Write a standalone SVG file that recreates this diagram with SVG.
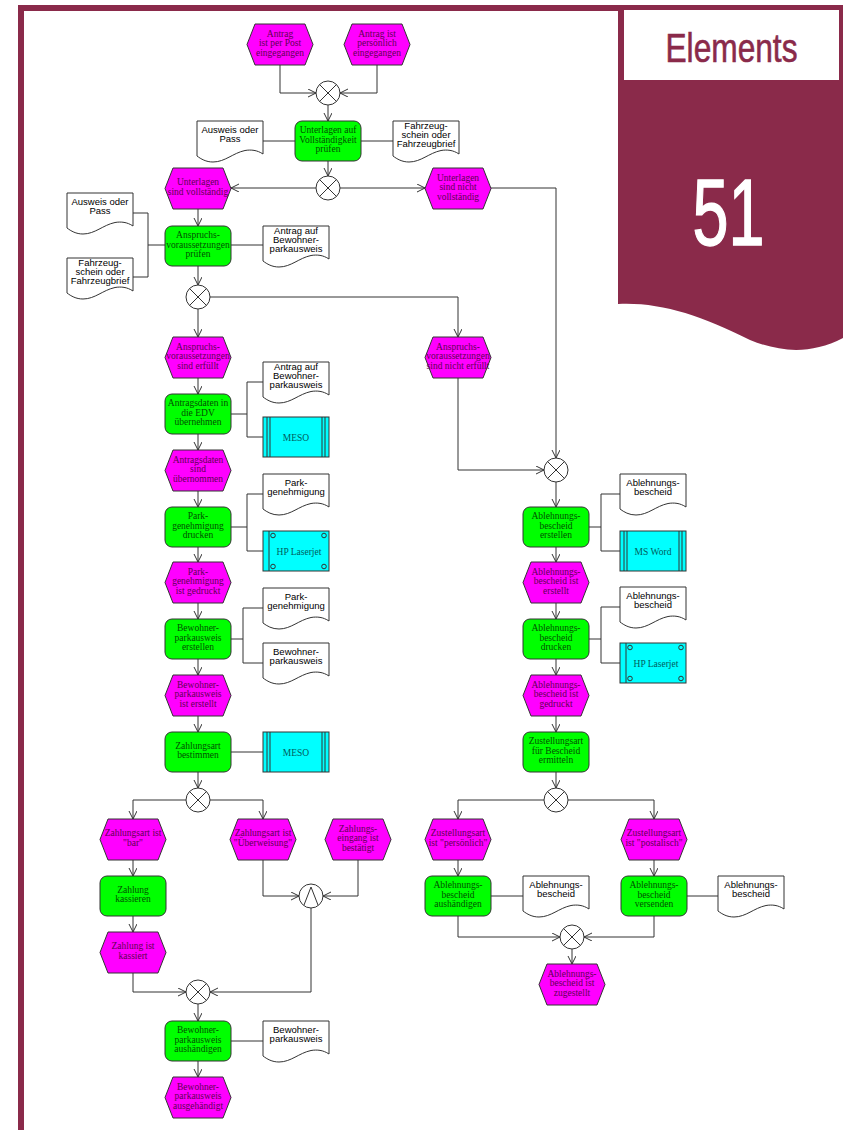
<svg xmlns="http://www.w3.org/2000/svg" xmlns:xlink="http://www.w3.org/1999/xlink" width="843" height="1130" viewBox="0 0 843 1130">
<style>
.ev{fill:#ff00ff;stroke:#333;stroke-width:1}
.fn{fill:#00ff00;stroke:#333;stroke-width:1}
.sy{fill:#00ffff;stroke:#333;stroke-width:1}
.dc{fill:#fff;stroke:#333;stroke-width:1}
.sl{stroke:#333;stroke-width:1;fill:none}
.cn{fill:#fff;stroke:#333;stroke-width:1}
.et{font-family:"Liberation Serif",serif;font-size:9.5px;fill:#5e0052;text-anchor:middle}
.ft{font-family:"Liberation Serif",serif;font-size:9.5px;fill:#005000;text-anchor:middle}
.st{font-family:"Liberation Serif",serif;font-size:9.5px;fill:#005c5c;text-anchor:middle}
.dt{font-family:"Liberation Sans",Arial,sans-serif;font-size:9.5px;fill:#000;text-anchor:middle}
#edges path{fill:none;stroke:#333;stroke-width:1}
.ar{marker-end:url(#arr)}
</style>
<defs>
<marker id="arr" markerUnits="userSpaceOnUse" markerWidth="10" markerHeight="10" refX="8" refY="4" orient="auto">
<path d="M0,0 L8,4 L0,8" fill="none" stroke="#333" stroke-width="1"/>
</marker>
<path id="hex" d="M8,0 H58 L66,20.5 L58,41 H8 L0,20.5 Z"/>
<path id="doc" d="M0,0 H66 V33 C60,29 54,28.5 48,29.5 C36,32 28,41 16,41 C9,41 4,38 0,35 Z"/>
<g id="xor"><circle cx="0" cy="0" r="12" class="cn"/><path d="M-8.5,-8.5 L8.5,8.5 M8.5,-8.5 L-8.5,8.5" class="sl"/></g>
<g id="and"><circle cx="0" cy="0" r="12" class="cn"/><path d="M-7,9 L0,-9 L7,9" class="sl"/></g>
<g id="sysA"><rect width="66" height="40" class="sy"/><path d="M4,0 V40 M7,0 V40 M59,0 V40 M62,0 V40" class="sl"/></g>
<g id="sysB"><rect width="66" height="40" class="sy"/><path d="M6,0 V40" class="sl"/><circle cx="10" cy="4.5" r="2.3" class="sl"/><circle cx="61" cy="4.5" r="2.3" class="sl"/><circle cx="10" cy="35.5" r="2.3" class="sl"/><circle cx="61" cy="35.5" r="2.3" class="sl"/></g>
</defs>
<rect width="843" height="1130" fill="#fff"/>
<g id="frame">
<rect x="18" y="5" width="602" height="6" fill="#8a2a4a"/>
<rect x="18" y="5" width="6" height="1125" fill="#8a2a4a"/>
<path d="M618,5 H843 V338 C810,355 780,352 750,340 C700,315 660,302 618,304 Z" fill="#8a2a4a"/>
<rect x="624" y="10" width="215" height="70" fill="#fff"/>
<text x="731.5" y="62" font-family="Liberation Sans,Arial,sans-serif" font-size="40" fill="#8a2a4a" stroke="#8a2a4a" stroke-width="0.6" text-anchor="middle" textLength="132" lengthAdjust="spacingAndGlyphs">Elements</text>
<text x="728.5" y="245" font-family="Liberation Sans,Arial,sans-serif" font-size="95" fill="#fff" stroke="#fff" stroke-width="1.4" text-anchor="middle" textLength="72" lengthAdjust="spacingAndGlyphs">51</text>
</g>
<g id="edges">
<path class="ar" d="M280,65 V93 H316"/>
<path class="ar" d="M377,65 V93 H340"/>
<path class="ar" d="M328,105 V121"/>
<path d="M263,141 H295 M361,141 H393"/>
<path class="ar" d="M328,161 V176"/>
<path class="ar" d="M316,188 H231"/>
<path class="ar" d="M340,188 H425"/>
<path class="ar" d="M491,188 H556 V458"/>
<path class="ar" d="M198,209 V226"/>
<path d="M133,213 H148 V277 H133 M148,245 H165 M231,245 H263"/>
<path class="ar" d="M198,266 V285"/>
<path class="ar" d="M198,309 V337"/>
<path class="ar" d="M210,297 H458 V337"/>
<path class="ar" d="M198,378 V394"/>
<path d="M231,414 H247 M247,382 V437 M247,382 H263 M247,437 H263"/>
<path class="ar" d="M198,434 V450"/>
<path class="ar" d="M198,491 V507"/>
<path d="M231,527 H247 M247,494 V551 M247,494 H263 M247,551 H263"/>
<path class="ar" d="M198,547 V562"/>
<path class="ar" d="M198,603 V619"/>
<path d="M231,639 H243 M243,608 V663 M243,608 H263 M243,663 H263"/>
<path class="ar" d="M198,659 V675"/>
<path class="ar" d="M198,716 V732"/>
<path d="M231,752 H263"/>
<path class="ar" d="M198,772 V788"/>
<path class="ar" d="M186,800 H133 V819"/>
<path class="ar" d="M210,800 H263 V819"/>
<path class="ar" d="M133,860 V876"/>
<path class="ar" d="M133,916 V932"/>
<path class="ar" d="M263,860 V896 H299"/>
<path class="ar" d="M358,860 V896 H323"/>
<path class="ar" d="M311,908 V992 H210"/>
<path class="ar" d="M133,973 V992 H186"/>
<path class="ar" d="M198,1004 V1021"/>
<path d="M231,1041 H263"/>
<path class="ar" d="M198,1061 V1077"/>
<path class="ar" d="M458,378 V470 H544"/>
<path class="ar" d="M556,482 V507"/>
<path d="M589,527 H601 M601,494 V551 M601,494 H620 M601,551 H620"/>
<path class="ar" d="M556,547 V562"/>
<path class="ar" d="M556,603 V619"/>
<path d="M589,639 H601 M601,607 V663 M601,607 H620 M601,663 H620"/>
<path class="ar" d="M556,659 V675"/>
<path class="ar" d="M556,716 V732"/>
<path class="ar" d="M556,772 V788"/>
<path class="ar" d="M544,800 H458 V819"/>
<path class="ar" d="M568,800 H654 V819"/>
<path class="ar" d="M458,860 V876"/>
<path class="ar" d="M654,860 V876"/>
<path d="M491,896 H523 M687,896 H718"/>
<path class="ar" d="M458,916 V937 H560"/>
<path class="ar" d="M654,916 V937 H584"/>
<path class="ar" d="M572,949 V964"/>
</g>
<g id="x1" transform="translate(328,93)"><use href="#xor"/></g>
<g id="x2" transform="translate(328,188)"><use href="#xor"/></g>
<g id="x3" transform="translate(198,297)"><use href="#xor"/></g>
<g id="x4" transform="translate(556,470)"><use href="#xor"/></g>
<g id="x5" transform="translate(198,800)"><use href="#xor"/></g>
<g id="a1" transform="translate(311,896)"><use href="#and"/></g>
<g id="x6" transform="translate(198,992)"><use href="#xor"/></g>
<g id="x7" transform="translate(556,800)"><use href="#xor"/></g>
<g id="x8" transform="translate(572,937)"><use href="#xor"/></g>

<g id="e1" transform="translate(247,24)"><use href="#hex" class="ev"/><text class="et"><tspan x="33" y="12.5">Antrag</tspan><tspan x="33" y="22">ist per Post</tspan><tspan x="33" y="31.5">eingegangen</tspan></text></g>
<g id="e2" transform="translate(344,24)"><use href="#hex" class="ev"/><text class="et"><tspan x="33" y="12.5">Antrag ist</tspan><tspan x="33" y="22">persönlich</tspan><tspan x="33" y="31.5">eingegangen</tspan></text></g>
<g id="f1" transform="translate(295,121)"><rect width="66" height="40" rx="7" class="fn"/><text class="ft"><tspan x="33" y="12">Unterlagen auf</tspan><tspan x="33" y="21.5">Vollständigkeit</tspan><tspan x="33" y="31">prüfen</tspan></text></g>
<g id="d1" transform="translate(197,121)"><use href="#doc" class="dc"/><text class="dt"><tspan x="33" y="12">Ausweis oder</tspan><tspan x="33" y="21">Pass</tspan></text></g>
<g id="d2" transform="translate(393,121)"><use href="#doc" class="dc"/><text class="dt"><tspan x="33" y="7.5">Fahrzeug-</tspan><tspan x="33" y="16.5">schein oder</tspan><tspan x="33" y="25.5">Fahrzeugbrief</tspan></text></g>
<g id="e3" transform="translate(165,168)"><use href="#hex" class="ev"/><text class="et"><tspan x="33" y="17.25">Unterlagen</tspan><tspan x="33" y="26.75">sind vollständig</tspan></text></g>
<g id="e4" transform="translate(425,168)"><use href="#hex" class="ev"/><text class="et"><tspan x="33" y="12.5">Unterlagen</tspan><tspan x="33" y="22">sind nicht</tspan><tspan x="33" y="31.5">vollständig</tspan></text></g>
<g id="d3" transform="translate(67,193)"><use href="#doc" class="dc"/><text class="dt"><tspan x="33" y="12">Ausweis oder</tspan><tspan x="33" y="21">Pass</tspan></text></g>
<g id="d4" transform="translate(67,258)"><use href="#doc" class="dc"/><text class="dt"><tspan x="33" y="7.5">Fahrzeug-</tspan><tspan x="33" y="16.5">schein oder</tspan><tspan x="33" y="25.5">Fahrzeugbrief</tspan></text></g>
<g id="f2" transform="translate(165,226)"><rect width="66" height="40" rx="7" class="fn"/><text class="ft"><tspan x="33" y="12">Anspruchs-</tspan><tspan x="33" y="21.5">voraussetzungen</tspan><tspan x="33" y="31">prüfen</tspan></text></g>
<g id="d5" transform="translate(263,226)"><use href="#doc" class="dc"/><text class="dt"><tspan x="33" y="7.5">Antrag auf</tspan><tspan x="33" y="16.5">Bewohner-</tspan><tspan x="33" y="25.5">parkausweis</tspan></text></g>
<g id="e5" transform="translate(165,337)"><use href="#hex" class="ev"/><text class="et"><tspan x="33" y="12.5">Anspruchs-</tspan><tspan x="33" y="22">voraussetzungen</tspan><tspan x="33" y="31.5">sind erfüllt</tspan></text></g>
<g id="e6" transform="translate(425,337)"><use href="#hex" class="ev"/><text class="et"><tspan x="33" y="12.5">Anspruchs-</tspan><tspan x="33" y="22">voraussetzungen</tspan><tspan x="33" y="31.5">sind nicht erfüllt</tspan></text></g>
<g id="f3" transform="translate(165,394)"><rect width="66" height="40" rx="7" class="fn"/><text class="ft"><tspan x="33" y="12">Antragsdaten in</tspan><tspan x="33" y="21.5">die EDV</tspan><tspan x="33" y="31">übernehmen</tspan></text></g>
<g id="d6" transform="translate(263,362)"><use href="#doc" class="dc"/><text class="dt"><tspan x="33" y="7.5">Antrag auf</tspan><tspan x="33" y="16.5">Bewohner-</tspan><tspan x="33" y="25.5">parkausweis</tspan></text></g>
<g id="s1" transform="translate(263,417)"><use href="#sysA"/><text class="st" x="33" y="23.5">MESO</text></g>
<g id="e7" transform="translate(165,450)"><use href="#hex" class="ev"/><text class="et"><tspan x="33" y="12.5">Antragsdaten</tspan><tspan x="33" y="22">sind</tspan><tspan x="33" y="31.5">übernommen</tspan></text></g>
<g id="f4" transform="translate(165,507)"><rect width="66" height="40" rx="7" class="fn"/><text class="ft"><tspan x="33" y="12">Park-</tspan><tspan x="33" y="21.5">genehmigung</tspan><tspan x="33" y="31">drucken</tspan></text></g>
<g id="d7" transform="translate(263,474)"><use href="#doc" class="dc"/><text class="dt"><tspan x="33" y="12">Park-</tspan><tspan x="33" y="21">genehmigung</tspan></text></g>
<g id="s2" transform="translate(263,531)"><use href="#sysB"/><text class="st" x="36" y="23.5">HP Laserjet</text></g>
<g id="e8" transform="translate(165,562)"><use href="#hex" class="ev"/><text class="et"><tspan x="33" y="12.5">Park-</tspan><tspan x="33" y="22">genehmigung</tspan><tspan x="33" y="31.5">ist gedruckt</tspan></text></g>
<g id="f5" transform="translate(165,619)"><rect width="66" height="40" rx="7" class="fn"/><text class="ft"><tspan x="33" y="12">Bewohner-</tspan><tspan x="33" y="21.5">parkausweis</tspan><tspan x="33" y="31">erstellen</tspan></text></g>
<g id="d8" transform="translate(263,588)"><use href="#doc" class="dc"/><text class="dt"><tspan x="33" y="12">Park-</tspan><tspan x="33" y="21">genehmigung</tspan></text></g>
<g id="d9" transform="translate(263,643)"><use href="#doc" class="dc"/><text class="dt"><tspan x="33" y="12">Bewohner-</tspan><tspan x="33" y="21">parkausweis</tspan></text></g>
<g id="e9" transform="translate(165,675)"><use href="#hex" class="ev"/><text class="et"><tspan x="33" y="12.5">Bewohner-</tspan><tspan x="33" y="22">parkausweis</tspan><tspan x="33" y="31.5">ist erstellt</tspan></text></g>
<g id="f6" transform="translate(165,732)"><rect width="66" height="40" rx="7" class="fn"/><text class="ft"><tspan x="33" y="16.75">Zahlungsart</tspan><tspan x="33" y="26.25">bestimmen</tspan></text></g>
<g id="s3" transform="translate(263,732)"><use href="#sysA"/><text class="st" x="33" y="23.5">MESO</text></g>
<g id="e10" transform="translate(100,819)"><use href="#hex" class="ev"/><text class="et"><tspan x="33" y="17.25">Zahlungsart ist</tspan><tspan x="33" y="26.75">"bar"</tspan></text></g>
<g id="e11" transform="translate(230,819)"><use href="#hex" class="ev"/><text class="et"><tspan x="33" y="17.25">Zahlungsart ist</tspan><tspan x="33" y="26.75">"Überweisung"</tspan></text></g>
<g id="e12" transform="translate(325,819)"><use href="#hex" class="ev"/><text class="et"><tspan x="33" y="12.5">Zahlungs-</tspan><tspan x="33" y="22">eingang ist</tspan><tspan x="33" y="31.5">bestätigt</tspan></text></g>
<g id="f7" transform="translate(100,876)"><rect width="66" height="40" rx="7" class="fn"/><text class="ft"><tspan x="33" y="16.75">Zahlung</tspan><tspan x="33" y="26.25">kassieren</tspan></text></g>
<g id="e13" transform="translate(100,932)"><use href="#hex" class="ev"/><text class="et"><tspan x="33" y="17.25">Zahlung ist</tspan><tspan x="33" y="26.75">kassiert</tspan></text></g>
<g id="f8" transform="translate(165,1021)"><rect width="66" height="40" rx="7" class="fn"/><text class="ft"><tspan x="33" y="12">Bewohner-</tspan><tspan x="33" y="21.5">parkausweis</tspan><tspan x="33" y="31">aushändigen</tspan></text></g>
<g id="d10" transform="translate(263,1021)"><use href="#doc" class="dc"/><text class="dt"><tspan x="33" y="12">Bewohner-</tspan><tspan x="33" y="21">parkausweis</tspan></text></g>
<g id="e14" transform="translate(165,1077)"><use href="#hex" class="ev"/><text class="et"><tspan x="33" y="12.5">Bewohner-</tspan><tspan x="33" y="22">parkausweis</tspan><tspan x="33" y="31.5">ausgehändigt</tspan></text></g>
<g id="f9" transform="translate(523,507)"><rect width="66" height="40" rx="7" class="fn"/><text class="ft"><tspan x="33" y="12">Ablehnungs-</tspan><tspan x="33" y="21.5">bescheid</tspan><tspan x="33" y="31">erstellen</tspan></text></g>
<g id="d11" transform="translate(620,474)"><use href="#doc" class="dc"/><text class="dt"><tspan x="33" y="12">Ablehnungs-</tspan><tspan x="33" y="21">bescheid</tspan></text></g>
<g id="s4" transform="translate(620,531)"><use href="#sysA"/><text class="st" x="33" y="23.5">MS Word</text></g>
<g id="e15" transform="translate(523,562)"><use href="#hex" class="ev"/><text class="et"><tspan x="33" y="12.5">Ablehnungs-</tspan><tspan x="33" y="22">bescheid ist</tspan><tspan x="33" y="31.5">erstellt</tspan></text></g>
<g id="f10" transform="translate(523,619)"><rect width="66" height="40" rx="7" class="fn"/><text class="ft"><tspan x="33" y="12">Ablehnungs-</tspan><tspan x="33" y="21.5">bescheid</tspan><tspan x="33" y="31">drucken</tspan></text></g>
<g id="d12" transform="translate(620,587)"><use href="#doc" class="dc"/><text class="dt"><tspan x="33" y="12">Ablehnungs-</tspan><tspan x="33" y="21">bescheid</tspan></text></g>
<g id="s5" transform="translate(620,643)"><use href="#sysB"/><text class="st" x="36" y="23.5">HP Laserjet</text></g>
<g id="e16" transform="translate(523,675)"><use href="#hex" class="ev"/><text class="et"><tspan x="33" y="12.5">Ablehnungs-</tspan><tspan x="33" y="22">bescheid ist</tspan><tspan x="33" y="31.5">gedruckt</tspan></text></g>
<g id="f11" transform="translate(523,732)"><rect width="66" height="40" rx="7" class="fn"/><text class="ft"><tspan x="33" y="12">Zustellungsart</tspan><tspan x="33" y="21.5">für Bescheid</tspan><tspan x="33" y="31">ermitteln</tspan></text></g>
<g id="e17" transform="translate(425,819)"><use href="#hex" class="ev"/><text class="et"><tspan x="33" y="17.25">Zustellungsart</tspan><tspan x="33" y="26.75">ist "persönlich"</tspan></text></g>
<g id="e18" transform="translate(621,819)"><use href="#hex" class="ev"/><text class="et"><tspan x="33" y="17.25">Zustellungsart</tspan><tspan x="33" y="26.75">ist "postalisch"</tspan></text></g>
<g id="f12" transform="translate(425,876)"><rect width="66" height="40" rx="7" class="fn"/><text class="ft"><tspan x="33" y="12">Ablehnungs-</tspan><tspan x="33" y="21.5">bescheid</tspan><tspan x="33" y="31">aushändigen</tspan></text></g>
<g id="d13" transform="translate(523,876)"><use href="#doc" class="dc"/><text class="dt"><tspan x="33" y="12">Ablehnungs-</tspan><tspan x="33" y="21">bescheid</tspan></text></g>
<g id="f13" transform="translate(621,876)"><rect width="66" height="40" rx="7" class="fn"/><text class="ft"><tspan x="33" y="12">Ablehnungs-</tspan><tspan x="33" y="21.5">bescheid</tspan><tspan x="33" y="31">versenden</tspan></text></g>
<g id="d14" transform="translate(718,876)"><use href="#doc" class="dc"/><text class="dt"><tspan x="33" y="12">Ablehnungs-</tspan><tspan x="33" y="21">bescheid</tspan></text></g>
<g id="e19" transform="translate(539,964)"><use href="#hex" class="ev"/><text class="et"><tspan x="33" y="12.5">Ablehnungs-</tspan><tspan x="33" y="22">bescheid ist</tspan><tspan x="33" y="31.5">zugestellt</tspan></text></g>
</svg>
